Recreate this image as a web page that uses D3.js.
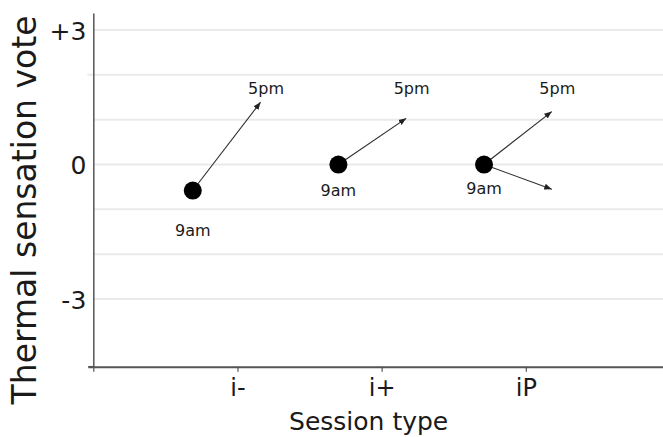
<!DOCTYPE html>
<html><head><meta charset="utf-8">
<script src="https://cdn.jsdelivr.net/npm/d3@7"></script>
<style>
html,body{margin:0;padding:0;background:#fff;}
svg text{font-family:"DejaVu Sans",Verdana,sans-serif;fill:#1a1a1a;}
</style></head>
<body><svg id="chart" width="663" height="437"></svg>
<script>
// ---- data ----
const categories = ["i-", "i+", "iP"];
const categoryPos = [1, 2, 3];
const yTickValues = [3, 0, -3];
const yTickLabels = ["+3", "0", "-3"];
const gridValues = [3, 2, 1, 0, -1, -2, -3];
// 9am starting points (one per session type)
const amX = [0.69, 1.70, 2.71];
const amY = [-0.58, 0, 0];
const amLabelY = [-1.46, -0.57, -0.53];
// 5pm arrow ends (index into 9am points)
const arrowFrom = [0, 1, 2, 2];
const pmX = [1.16, 2.17, 3.18, 3.18];
const pmY = [1.39, 1.03, 1.18, -0.55];
const pmLabelIdx = [0, 1, 2];
const pmLabelY = [1.70, 1.70, 1.70];

// ---- scales ----
const svg = d3.select("#chart");
const x = d3.scaleLinear().domain([0, 4]).range([93.3, 670]);
const y = d3.scaleLinear().domain([-4.51, 3.38]).range([366.7, 13]);

const defs = svg.append("defs");
defs.append("marker").attr("id", "arr").attr("viewBox", "0 0 10 10")
  .attr("refX", 10).attr("refY", 5).attr("markerWidth", 7.5).attr("markerHeight", 7.5)
  .attr("markerUnits", "userSpaceOnUse").attr("orient", "auto")
  .append("path").attr("d", "M0,1 L10,5 L0,9 Z").attr("fill", "#222");

// gridlines
svg.append("g").selectAll("line").data(gridValues).join("line")
  .attr("x1", d => d === 2 ? x(0) - 6 : x(0)).attr("x2", 663)
  .attr("y1", d => y(d)).attr("y2", d => y(d))
  .attr("stroke", "#eaeaea").attr("stroke-width", 2);

// y axis
const yAxis = d3.axisLeft(y).tickValues(yTickValues).tickSize(0).tickPadding(7)
  .tickFormat((d, i) => yTickLabels[i]);
const gy = svg.append("g").attr("transform", `translate(${x(0)},0)`).call(yAxis);
gy.select(".domain").attr("stroke", "#555").attr("stroke-width", 1.5);
gy.selectAll("text").attr("font-size", 25).attr("font-family", "DejaVu Sans").attr("fill", "#1a1a1a").attr("dy", "0.36em");
svg.append("line").attr("x1", x(0) - 5).attr("x2", x(0)).attr("y1", y(-4.51)).attr("y2", y(-4.51))
  .attr("stroke", "#555").attr("stroke-width", 1.5);

// x axis
const xAxis = d3.axisBottom(x).tickValues([0].concat(categoryPos)).tickSize(5).tickPadding(7)
  .tickFormat(d => d === 0 ? "" : categories[categoryPos.indexOf(d)]);
const gx = svg.append("g").attr("transform", `translate(0,${y(-4.51)})`).call(xAxis);
gx.select(".domain").attr("d", `M${x(0) - 5},0.5H663`).attr("stroke", "#555").attr("stroke-width", 2);
gx.selectAll(".tick line").attr("stroke", "#555").attr("stroke-width", 1.2);
gx.selectAll("text").attr("font-size", 24).attr("font-family", "DejaVu Sans").attr("fill", "#1a1a1a");

// axis titles
svg.append("text").attr("x", x(2)-13).attr("y", 430).attr("text-anchor", "middle")
  .attr("font-size", 25).text("Session type");
svg.append("text").attr("transform", "translate(36,210) rotate(-90)").attr("text-anchor", "middle")
  .attr("font-size", 33).text("Thermal sensation vote");

// arrows
svg.append("g").selectAll("line").data(arrowFrom).join("line")
  .attr("x1", (d) => x(amX[d])).attr("y1", d => y(amY[d]))
  .attr("x2", (d, i) => x(pmX[i])).attr("y2", (d, i) => y(pmY[i]))
  .attr("stroke", "#2a2a2a").attr("stroke-width", 1.1).attr("marker-end", "url(#arr)");

// dots
svg.append("g").selectAll("circle").data(amX).join("circle")
  .attr("cx", d => x(d)).attr("cy", (d, i) => y(amY[i])).attr("r", 9).attr("fill", "#000");

// labels
svg.append("g").selectAll("text").data(amX).join("text")
  .attr("x", d => x(d)).attr("y", (d, i) => y(amLabelY[i])).attr("dy", "0.35em")
  .attr("text-anchor", "middle").attr("font-size", 16).text("9am");
svg.append("g").selectAll("text").data(pmLabelIdx).join("text")
  .attr("x", d => x(pmX[d]) + 5.5).attr("y", (d, i) => y(pmLabelY[i])).attr("dy", "0.35em")
  .attr("text-anchor", "middle").attr("font-size", 16).text("5pm");
</script></body></html>
